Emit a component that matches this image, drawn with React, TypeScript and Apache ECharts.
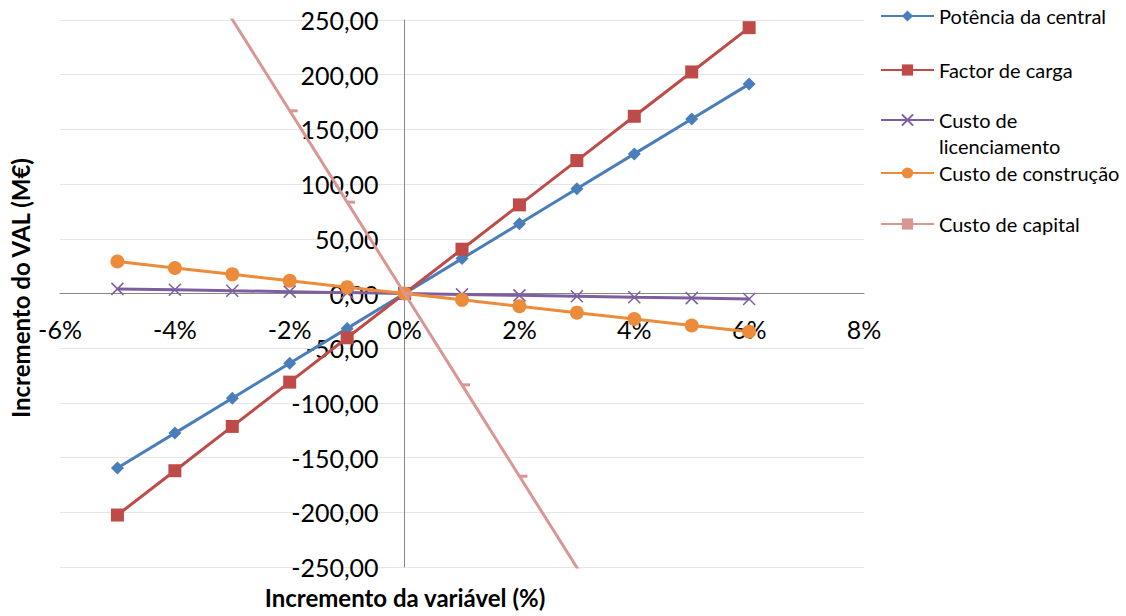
import React, { useEffect, useRef } from "react";
import * as echarts from "echarts";

const xValues = [-5, -4, -3, -2, -1, 0, 1, 2, 3, 4, 5, 6];
const potencia = [-159.5, -127.6, -95.7, -63.8, -31.9, 0, 31.9, 63.8, 95.7, 127.6, 159.5, 191.4];
const factorCarga = [-202.5, -162, -121.5, -81, -40.5, 0, 40.5, 81, 121.5, 162, 202.5, 243];
const licenciamento = [4.2, 3.4, 2.5, 1.7, 0.8, 0, -0.8, -1.7, -2.5, -3.4, -4.2, -5.0];
const construcao = [29.2, 23.3, 17.5, 11.7, 5.8, 0, -5.8, -11.7, -17.5, -23.3, -29.2, -35.0];
const capital = [417.5, 334, 250.5, 167, 83.5, 0, -83.5, -167, -250.5, -334, -417.5, -501];

const seriesNames = [
  "Potência da central",
  "Factor de carga",
  "Custo de licenciamento",
  "Custo de construção",
  "Custo de capital",
];
const xTitle = "Incremento da variável (%)";
const yTitle = "Incremento do VAL (M€)";

export default function App() {
  const ref = useRef<HTMLDivElement>(null);
  useEffect(() => {
    const chart = echarts.init(ref.current!, null, { renderer: "svg" });
    const font = "Lato, 'Open Sans', sans-serif";
    const pair = (ys: number[]) => xValues.map((x, i) => [x, ys[i]]);
    const colors = ["#4A7EBB", "#BE4B48", "#7D5FA0", "#EC8B3A", "#D99694"];
    const legendCenters = [13, 67, 120, 170, 221];
    const legends = seriesNames.map((name, i) => {
      const base: any = {
        data: [name],
        left: 880,
        top: legendCenters[i] - 7,
        padding: 0,
        itemWidth: 53,
        itemHeight: 14,
        selectedMode: false,
        textStyle: { fontSize: 20, fontFamily: font, color: "#000", lineHeight: 14 },
      };
      if (i === 2) {
        base.formatter = () => "\nCusto de\nlicenciamento";
        base.textStyle = {
          fontSize: 20,
          fontFamily: font,
          color: "#000",
          lineHeight: 26,
        };
        base.top = legendCenters[i] - 39;
      }
      return base;
    });
    chart.setOption({
      animation: false,
      backgroundColor: "#fff",
      grid: {
        left: 60,
        right: 262,
        top: 20,
        bottom: 49,
        containLabel: false,
        outerBoundsMode: "none",
      },
      legend: legends,
      xAxis: {
        type: "value",
        min: -6,
        max: 8,
        interval: 2,
        position: "bottom",
        offset: -274,
        axisLine: { onZero: false, lineStyle: { color: "#868686", width: 1 } },
        axisTick: { show: false },
        splitLine: { show: false },
        axisLabel: {
          formatter: (v: number) => `${v}%`,
          fontSize: 25,
          fontFamily: font,
          color: "#000",
          margin: 23,
          showMinLabel: true,
          showMaxLabel: true,
        },
      },
      yAxis: {
        type: "value",
        min: -250,
        max: 250,
        interval: 50,
        position: "left",
        offset: -344.6,
        axisLine: { show: true, onZero: false, lineStyle: { color: "#868686", width: 1 } },
        axisTick: { show: false },
        splitLine: { lineStyle: { color: "#e6e6e6", width: 1 } },
        axisLabel: {
          formatter: (v: number) => v.toFixed(2).replace(".", ","),
          fontSize: 25,
          fontFamily: font,
          color: "#000",
          margin: 26,
          showMinLabel: true,
          showMaxLabel: true,
        },
      },
      series: [
        {
          name: seriesNames[0],
          type: "line",
          data: pair(potencia),
          symbol: "diamond",
          symbolSize: 13,
          lineStyle: { color: colors[0], width: 3 },
          itemStyle: { color: colors[0] },
          clip: true,
          z: 2,
        },
        {
          name: seriesNames[1],
          type: "line",
          data: pair(factorCarga),
          symbol: "rect",
          symbolSize: 13,
          lineStyle: { color: colors[1], width: 3 },
          itemStyle: { color: colors[1] },
          clip: true,
          z: 3,
        },
        {
          name: seriesNames[2],
          type: "line",
          data: pair(licenciamento),
          symbol: "path://M0,0L10,10M10,0L0,10",
          symbolSize: 12,
          lineStyle: { color: colors[2], width: 3 },
          itemStyle: { color: colors[2], borderColor: colors[2], borderWidth: 1.5 },
          clip: true,
          z: 4,
        },
        {
          name: seriesNames[3],
          type: "line",
          data: pair(construcao),
          symbol: "circle",
          symbolSize: 14,
          lineStyle: { color: colors[3], width: 3 },
          itemStyle: { color: colors[3] },
          clip: true,
          z: 5,
        },
        {
          name: seriesNames[4],
          type: "line",
          data: pair(capital),
          symbol: "rect",
          symbolSize: [8, 3],
          symbolOffset: [4, 0],
          lineStyle: { color: colors[4], width: 3 },
          itemStyle: { color: colors[4] },
          clip: true,
          z: 6,
        },
      ],
      graphic: [
        {
          type: "text",
          x: 405,
          y: 597,
          style: {
            text: xTitle,
            font: `bold 24px ${font}`,
            fill: "#000",
            align: "center",
            verticalAlign: "middle",
          },
        },
        {
          type: "text",
          x: 20,
          y: 288,
          rotation: Math.PI / 2,
          style: {
            text: yTitle,
            font: `bold 24px ${font}`,
            fill: "#000",
            align: "center",
            verticalAlign: "middle",
          },
        },
      ],
    });
    return () => chart.dispose();
  }, []);
  return (
    <div
      ref={ref}
      style={{ position: "fixed", left: 0, top: 0, width: 1126, height: 616, background: "#fff" }}
    />
  );
}
